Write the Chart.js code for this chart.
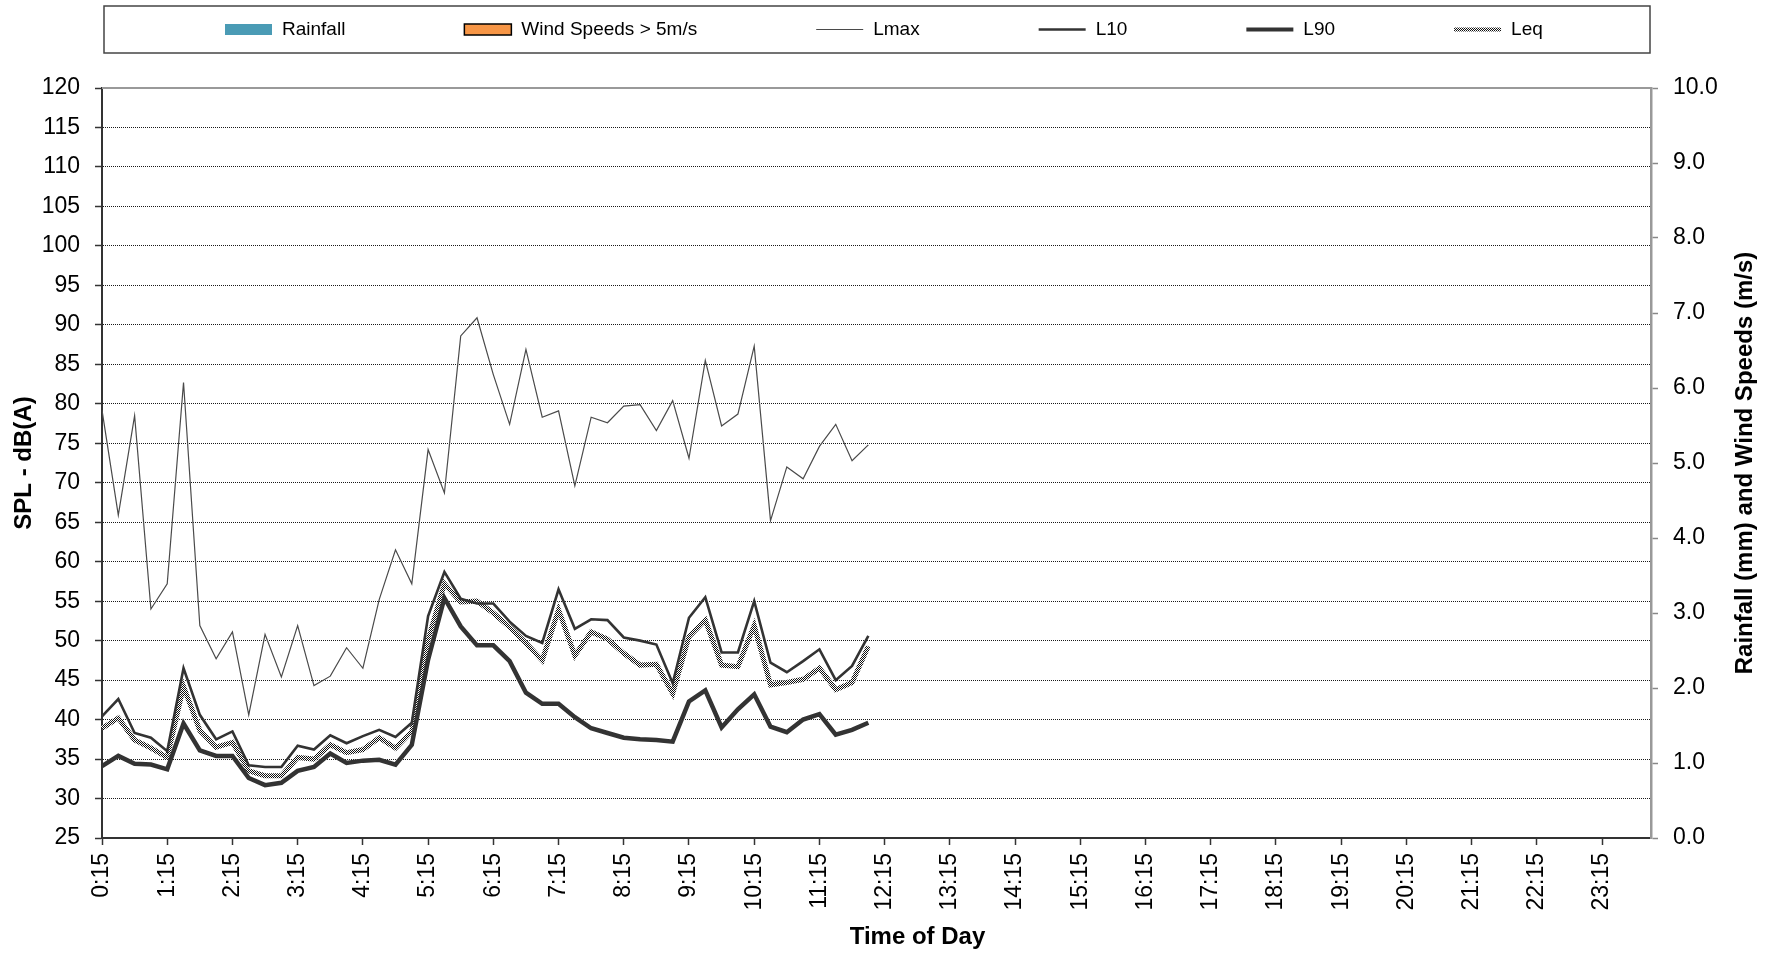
<!DOCTYPE html>
<html>
<head>
<meta charset="utf-8">
<script src="https://cdn.jsdelivr.net/npm/chart.js@4/dist/chart.umd.min.js"></script>
<style>
html, body { margin: 0; padding: 0; background: #fff; }
canvas { display: block; }
</style>
</head>
<body>
<canvas id="chart1" width="1776" height="956"></canvas>
<script>
// 15 minute intervals over the day
var timeLabels = [
	'0:15', '0:30', '0:45', '1:00', '1:15', '1:30', '1:45', '2:00',
	'2:15', '2:30', '2:45', '3:00', '3:15', '3:30', '3:45', '4:00',
	'4:15', '4:30', '4:45', '5:00', '5:15', '5:30', '5:45', '6:00',
	'6:15', '6:30', '6:45', '7:00', '7:15', '7:30', '7:45', '8:00',
	'8:15', '8:30', '8:45', '9:00', '9:15', '9:30', '9:45', '10:00',
	'10:15', '10:30', '10:45', '11:00', '11:15', '11:30', '11:45', '12:00',
	'12:15', '12:30', '12:45', '13:00', '13:15', '13:30', '13:45', '14:00',
	'14:15', '14:30', '14:45', '15:00', '15:15', '15:30', '15:45', '16:00',
	'16:15', '16:30', '16:45', '17:00', '17:15', '17:30', '17:45', '18:00',
	'18:15', '18:30', '18:45', '19:00', '19:15', '19:30', '19:45', '20:00',
	'20:15', '20:30', '20:45', '21:00', '21:15', '21:30', '21:45', '22:00',
	'22:15', '22:30', '22:45', '23:00', '23:15', '23:30', '23:45', '0:00'
];

var rainfall = [];
var windOver5 = [];

var lmax = [79.2, 65.9, 78.5, 54.0, 57.2, 82.7, 51.9, 47.7, 51.1, 40.6, 50.8, 45.4,
	51.9, 44.3, 45.5, 49.1, 46.5, 55.2, 61.5, 57.2, 74.2, 68.7, 88.6, 90.9,
	83.7, 77.4, 86.9, 78.3, 79.1, 69.6, 78.3, 77.6, 79.7, 79.9, 76.6, 80.4,
	73.1, 85.5, 77.2, 78.7, 87.3, 65.2, 72.0, 70.5, 74.6, 77.4, 72.8, 74.8];

var l10 = [40.4, 42.6, 38.3, 37.7, 36.0, 46.5, 40.6, 37.5, 38.5, 34.2, 34.0, 34.0,
	36.7, 36.2, 38.0, 37.0, 37.9, 38.7, 37.8, 39.6, 53.1, 58.7, 55.3, 54.7,
	54.7, 52.4, 50.6, 49.7, 56.5, 51.5, 52.7, 52.6, 50.4, 50.0, 49.5, 44.6,
	52.9, 55.5, 48.5, 48.5, 55.0, 47.2, 46.0, 47.4, 48.9, 45.0, 46.8, 50.6];

var l90 = [34.1, 35.4, 34.4, 34.3, 33.7, 39.5, 36.1, 35.4, 35.4, 32.6, 31.7, 32.0,
	33.5, 34.0, 35.7, 34.5, 34.8, 34.9, 34.3, 36.8, 47.6, 55.4, 51.8, 49.4,
	49.4, 47.4, 43.4, 42.0, 42.0, 40.3, 38.9, 38.3, 37.7, 37.5, 37.4, 37.2,
	42.3, 43.7, 39.0, 41.3, 43.2, 39.1, 38.4, 40.0, 40.7, 38.1, 38.7, 39.6];

var leq = [38.9, 40.2, 37.4, 36.4, 35.2, 44.2, 38.6, 36.5, 37.1, 33.5, 32.9, 32.9,
	35.2, 35.0, 36.8, 35.8, 36.2, 37.7, 36.4, 38.5, 50.1, 57.2, 54.9, 55.0,
	53.5, 51.7, 49.7, 47.5, 53.9, 48.1, 51.1, 50.2, 48.4, 46.9, 47.0, 43.3,
	50.5, 52.6, 46.9, 46.7, 51.9, 44.4, 44.7, 45.1, 46.5, 43.8, 44.7, 49.3];

var FONT = '"Liberation Sans", Arial, sans-serif';

function checker() {
	var c = document.createElement('canvas');
	c.width = 2;
	c.height = 2;
	var g = c.getContext('2d');
	g.fillStyle = '#fff';
	g.fillRect(0, 0, 2, 2);
	g.fillStyle = '#111';
	g.fillRect(0, 0, 1, 1);
	g.fillRect(1, 1, 1, 1);
	return g.createPattern(c, 'repeat');
}
var leqPattern = checker();

// legend in a framed box above the plot, drawn from the datasets
var boxLegend = {
	id: 'boxLegend',
	afterDraw: function (chart) {
		var ctx = chart.ctx;
		var a = chart.chartArea;
		var top = 6, bottom = 53, mid = 29.5;
		ctx.save();
		ctx.strokeStyle = '#444';
		ctx.lineWidth = 1.5;
		ctx.strokeRect(a.left + 2, top, a.right - a.left - 3, bottom - top);
		ctx.font = '19px ' + FONT;
		ctx.textBaseline = 'middle';
		ctx.textAlign = 'left';
		var x = a.left + 123;
		chart.data.datasets.forEach(function (ds) {
			if (ds.type === 'bar') {
				ctx.fillStyle = ds.backgroundColor;
				ctx.fillRect(x, mid - 5.5, 47, 11);
				if (ds.borderWidth) {
					ctx.strokeStyle = ds.borderColor;
					ctx.lineWidth = ds.borderWidth;
					ctx.strokeRect(x, mid - 5.5, 47, 11);
				}
			} else {
				ctx.strokeStyle = ds.borderColor;
				ctx.lineWidth = Math.min(ds.borderWidth, 4);
				ctx.beginPath();
				ctx.moveTo(x, mid);
				ctx.lineTo(x + 47, mid);
				ctx.stroke();
			}
			ctx.fillStyle = '#000';
			ctx.fillText(ds.label, x + 57, mid);
			x += 57 + ctx.measureText(ds.label).width + 119;
		});
		ctx.restore();
	}
};

// top frame line and axis titles
var frame = {
	id: 'frame',
	afterDraw: function (chart) {
		var ctx = chart.ctx;
		var a = chart.chartArea;
		var cy = (a.top + a.bottom) / 2;
		ctx.save();
		ctx.strokeStyle = '#999';
		ctx.lineWidth = 2;
		ctx.beginPath();
		ctx.moveTo(a.left, a.top);
		ctx.lineTo(a.right, a.top);
		ctx.stroke();

		ctx.fillStyle = '#000';
		ctx.font = 'bold 24px ' + FONT;
		ctx.textAlign = 'center';
		ctx.textBaseline = 'middle';
		ctx.fillText('Time of Day', (a.left + a.right) / 2 + 41, chart.height - 19);

		ctx.translate(24.5, cy);
		ctx.rotate(-Math.PI / 2);
		ctx.fillText('SPL - dB(A)', 0, 0);
		ctx.restore();

		ctx.save();
		ctx.fillStyle = '#000';
		ctx.font = 'bold 24px ' + FONT;
		ctx.textAlign = 'center';
		ctx.textBaseline = 'middle';
		ctx.translate(1745, cy);
		ctx.rotate(-Math.PI / 2);
		ctx.fillText('Rainfall (mm) and Wind Speeds (m/s)', 0, 0);
		ctx.restore();
	}
};

var ctx = document.getElementById('chart1').getContext('2d');
new Chart(ctx, {
	type: 'line',
	data: {
		labels: timeLabels,
		datasets: [{
			type: 'bar',
			label: 'Rainfall',
			data: rainfall,
			backgroundColor: '#4A9BB5',
			borderWidth: 0,
			yAxisID: 'y1'
		}, {
			type: 'bar',
			label: 'Wind Speeds > 5m/s',
			data: windOver5,
			backgroundColor: '#F79646',
			borderColor: '#000',
			borderWidth: 1.5,
			yAxisID: 'y1'
		}, {
			label: 'Lmax',
			data: lmax,
			borderColor: '#4a4a4a',
			borderWidth: 1.2,
			order: 3
		}, {
			label: 'L10',
			data: l10,
			borderColor: '#333',
			borderWidth: 2.6,
			order: 1
		}, {
			label: 'L90',
			data: l90,
			borderColor: '#333',
			borderWidth: 4.5,
			order: 2
		}, {
			label: 'Leq',
			data: leq,
			borderColor: leqPattern,
			borderWidth: 5,
			order: 4
		}]
	},
	options: {
		responsive: false,
		animation: false,
		layout: { padding: { top: 88, left: 0, right: 0, bottom: 0 } },
		elements: {
			point: { radius: 0 },
			line: { tension: 0, fill: false }
		},
		plugins: {
			legend: { display: false },
			tooltip: { enabled: false }
		},
		scales: {
			x: {
				offset: false,
				afterBuildTicks: function (scale) {
					scale.ticks = scale.ticks.filter(function (t) { return t.value % 4 === 0; });
				},
				afterFit: function (scale) { scale.height = 118; },
				border: { color: '#333', width: 2 },
				grid: { offset: false, drawOnChartArea: false, drawTicks: true, tickLength: 7, tickColor: '#333', tickWidth: 1.5 },
				ticks: {
					autoSkip: false,
					minRotation: 90,
					maxRotation: 90,
					padding: 8,
					color: '#000',
					font: { family: FONT, size: 23 }
				}
			},
			y: {
				position: 'left',
				min: 25,
				max: 120,
				afterFit: function (scale) { scale.width = 102; },
				border: { color: '#333', width: 2, dash: [1, 1] },
				grid: {
					color: function (c) {
						return (c.tick && (c.tick.value === 25 || c.tick.value === 120)) ? 'rgba(0,0,0,0)' : '#1a1a1a';
					},
					lineWidth: 1,
					tickLength: 7,
					tickColor: '#333',
					tickWidth: 1.5
				},
				ticks: {
					stepSize: 5,
					padding: 15,
					color: '#000',
					font: { family: FONT, size: 23 }
				}
			},
			y1: {
				position: 'right',
				min: 0,
				max: 10,
				afterFit: function (scale) { scale.width = 125; },
				border: { color: '#999', width: 2.5 },
				grid: { drawOnChartArea: false, tickLength: 7, tickColor: '#888', tickWidth: 1.5 },
				ticks: {
					stepSize: 1,
					padding: 15,
					color: '#000',
					font: { family: FONT, size: 23 },
					callback: function (v) { return v.toFixed(1); }
				}
			}
		}
	},
	plugins: [boxLegend, frame]
});
</script>
</body>
</html>
